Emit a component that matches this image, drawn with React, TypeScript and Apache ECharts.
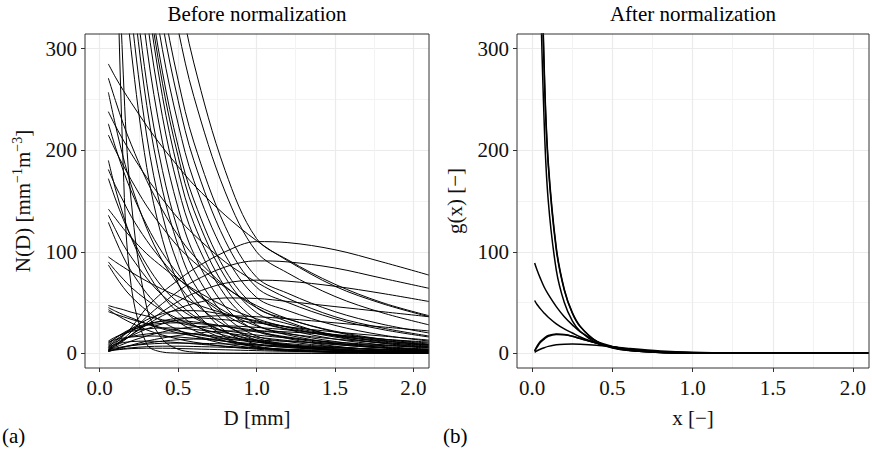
import React, { useEffect, useRef } from "react";
import * as echarts from "echarts";

const FONT = '"Liberation Serif", "Times New Roman", Times, serif';

// ---------- Panel (a): Before normalization ----------
const dGrid = [0.055, 0.1, 0.15, 0.2, 0.3, 0.4, 0.5, 0.6, 0.8, 1.0, 1.2, 1.5, 1.8, 2.1];

const steepCurves: number[][] = [
  [1224, 497, 183, 67, 9, 1.2, 0.2, 0, 0, 0, 0, 0, 0, 0],
  [860, 501, 275, 151, 45, 13.7, 4, 1.2, 0.1, 0, 0, 0, 0, 0],
  [607, 487, 382, 299, 183, 112, 69, 42, 16, 6, 3.6, 1.7, 0.9, 0.5],
  [647, 528, 422, 336, 214, 136, 87, 55, 22, 9, 5.8, 3.1, 1.7, 1],
  [681, 565, 458, 371, 244, 161, 106, 69, 30, 13, 8.5, 4.6, 2.6, 1.5],
  [697, 584, 480, 394, 266, 180, 121, 82, 37, 17, 11.5, 6.4, 3.6, 2],
  [757, 640, 531, 440, 302, 208, 143, 98, 46, 22, 15.3, 8.9, 5.1, 3],
  [786, 671, 562, 471, 331, 233, 163, 115, 57, 28, 19.7, 11.6, 6.8, 4],
  [819, 703, 593, 500, 356, 253, 180, 128, 65, 33, 23.4, 14, 8.4, 5],
  [790, 685, 585, 500, 365, 266, 194, 141, 75, 40, 29, 18, 11.2, 7],
  [786, 687, 589, 507, 374, 277, 204, 151, 82, 45, 33.6, 21.7, 14, 9],
  [792, 697, 606, 526, 397, 299, 226, 170, 97, 55, 42, 27.5, 18, 12],
  [820, 726, 635, 556, 425, 325, 249, 190, 111, 65, 50, 34, 23.5, 16],
  [836, 745, 656, 577, 447, 347, 269, 208, 125, 75, 59, 41, 28.7, 20],
  [896, 807, 719, 640, 508, 403, 319, 253, 159, 100, 79, 56, 40, 28],
  [1010, 913, 813, 724, 574, 455, 361, 286, 180, 113, 92, 68, 50, 37],
];

const decayCurves: number[][] = [
  [285, 272, 259, 247, 224, 203, 184, 166, 136, 111, 91, 66, 49, 36],
  [271, 249, 226, 206, 170, 141, 116, 96, 66, 45, 31, 17, 10, 5.5],
  [257, 225, 193, 166, 123, 91, 68, 50, 27.5, 15, 8.3, 3.4, 1.4, 0.6],
  [238, 224, 210, 197, 173, 152, 133, 117, 90, 70, 54, 36, 25, 17],
  [226, 203, 180, 160, 126, 99, 78, 61, 38, 23, 14.5, 7, 3.4, 1.7],
  [215, 200, 185, 171, 145, 124, 105, 90, 65, 47, 34, 21, 13, 8],
  [190, 162, 136, 114, 81, 57, 40, 28, 14, 7, 3.5, 1.2, 0.4, 0.15],
  [181, 165, 150, 135, 111, 91, 74, 61, 41, 27, 18, 10, 5.6, 3],
  [172, 152, 132, 115, 87, 65, 50, 37, 21, 12, 7, 3, 1.3, 0.6],
  [142, 133, 123, 114, 98, 85, 73, 63, 46, 34, 25.5, 16, 10, 6.6],
  [136, 122, 107, 95, 74, 57, 45, 35, 21, 13, 7.8, 3.7, 1.7, 0.8],
  [129, 112, 95, 81, 59, 43, 31, 22.6, 12, 6.2, 3.3, 1.3, 0.5, 0.2],
  [95, 90, 85, 80, 71, 63, 56, 49, 39, 31, 24, 17, 12, 8.2],
  [90, 81.5, 73, 65, 52.5, 42, 34, 27, 17.5, 11, 7.2, 3.7, 1.9, 1],
  [87, 76, 65, 56, 42, 31, 23, 17, 9.3, 5.1, 2.8, 1.1, 0.5, 0.2],
  [47, 45, 43, 40.5, 36.7, 33, 30, 27, 22.3, 18, 15, 11, 8.3, 6.1],
  [45, 41.5, 38, 35, 29, 24, 20, 17, 11.7, 8.2, 5.7, 3.3, 1.9, 1.1],
  [43, 38.5, 34, 30, 23, 18, 14, 11, 6.7, 4, 2.4, 1.1, 0.5, 0.25],
  [41, 38.5, 36, 33.5, 29, 25, 22, 19, 14.3, 11, 8.3, 5.5, 3.6, 2.4],
];

const humpCurves: number[][] = [
  [4, 10, 17, 25, 45, 60, 72, 83, 100, 110, 109, 102, 90, 77],
  [3, 8, 14, 21, 36, 49, 61, 71, 85, 91, 90, 84, 74, 64],
  [3, 7, 12, 18, 30, 41, 51, 59, 69, 72, 71, 66, 59, 51],
  [4, 8, 13, 18, 28, 37, 44, 49, 54.5, 54, 51, 46, 41, 36],
  [5, 9, 13, 17, 24, 29, 33, 35.5, 37, 36, 34, 30, 26, 22],
  [8, 13, 18, 22, 28, 32, 34.5, 35, 33, 30, 26, 21, 17, 13],
  [10, 15, 19.5, 23, 27.5, 29.5, 30, 29.5, 26.5, 22.5, 19, 14, 10.5, 8],
  [12, 16, 19, 21.5, 24, 25, 24.8, 23.5, 20, 16, 12.5, 8.5, 5.7, 3.8],
  [7, 11, 14, 16.5, 19, 20, 19.8, 19, 16, 12.5, 9.5, 6, 3.7, 2.2],
  [11, 13.5, 15, 16, 17, 16.8, 16, 14.8, 12, 9, 6.5, 4, 2.3, 1.3],
  [2, 4, 6, 7.5, 10, 12, 13.3, 14, 14, 13, 11.7, 9.6, 7.6, 6],
  [3, 5, 6.5, 7.5, 9, 9.8, 10, 9.9, 9.2, 8.2, 7, 5.4, 4, 3],
  [2, 3.5, 4.6, 5.4, 6.5, 7, 7, 6.7, 5.9, 5, 4, 2.8, 1.9, 1.3],
  [2, 3.2, 4, 4.6, 5, 5, 4.7, 4.3, 3.4, 2.6, 1.9, 1.2, 0.7, 0.4],
  [2, 4, 6, 8, 12, 15, 17.5, 19.5, 22, 22, 21, 18, 14, 11],
  [3, 6, 9, 12, 17, 21, 24, 26, 27, 25.5, 23, 18.5, 14, 10],
  [6, 12, 18, 24, 33, 39, 42, 42, 38, 32, 26, 18, 12.5, 8.5],
  [9, 15, 20, 24, 29, 31.5, 32, 31, 26.5, 21, 16, 10, 6, 3.5],
  [6, 9, 10.5, 11.5, 12, 11.5, 10.5, 9.3, 7, 5, 3.4, 1.8, 0.9, 0.4],
];

// ---------- Panel (b): After normalization ----------
const xGrid = [0.015, 0.03, 0.05, 0.075, 0.1, 0.15, 0.2, 0.25, 0.3, 0.4, 0.5, 0.6, 0.8, 1.0, 1.3, 1.6, 2.1];

const normCurves: number[][] = [
  [1800, 900, 380, 225, 150, 82, 50, 32, 21.5, 10.2, 5.2, 2.7, 0.8, 0.3, 0.1, 0.05, 0],
  [2200, 1100, 470, 280, 188, 104, 63, 40, 26.5, 12, 5.8, 2.9, 0.8, 0.3, 0.1, 0.05, 0],
  [2150, 1080, 460, 275, 185, 102, 62, 39.5, 26, 11.8, 5.7, 2.9, 0.8, 0.3, 0.1, 0.05, 0],
  [89, 82, 74, 65, 58, 46, 36, 28, 21, 12, 6.8, 3.5, 1, 0.35, 0.1, 0.03, 0],
  [52, 48, 44, 39.5, 35.5, 29, 24, 20, 16, 10, 6, 3.5, 1.2, 0.4, 0.1, 0.03, 0],
  [2.5, 7, 11.5, 15, 17.5, 19, 18.5, 16.8, 14.5, 10, 6.5, 4, 1.5, 0.5, 0.1, 0.03, 0],
  [2, 6, 10.5, 14, 16.8, 18.6, 18.3, 16.8, 14.5, 10, 6.5, 4, 1.5, 0.5, 0.1, 0.03, 0],
  [1, 2.5, 4, 5.5, 6.8, 8.3, 9, 9.2, 9, 8, 6.5, 4.8, 2.3, 1, 0.3, 0.1, 0],
];

// ---------- Axes ----------
const xTicks = [0, 0.5, 1, 1.5, 2];
const yTicks = [0, 100, 200, 300];
const titles = ["Before normalization", "After normalization"];
const xNames = ["D [mm]", "x [\u2212]"];
const yNames = ["{n|N(D) [mm}{s|\u22121}{n|m}{s|\u22123}{n|]}", "{n|g(x) [\u2212]}"];
const panelTags = ["(a)", "(b)"];

const grids = [
  { left: 85, top: 34, width: 344, height: 334 },
  { left: 517, top: 34, width: 352, height: 334 },
];

const FS = 21;
const textBase = { fontFamily: FONT, fontSize: FS, color: "#111" };

function makeX(i: number) {
  return {
    type: "value",
    gridIndex: i,
    min: i === 0 ? -0.094 : -0.095,
    max: 2.1,
    splitNumber: 4,
    name: xNames[i],
    nameLocation: "middle",
    nameGap: 39,
    nameTextStyle: { ...textBase },
    axisLine: { show: false, onZero: false },
    axisTick: { show: true, length: 4, lineStyle: { color: "#333", width: 1 }, customValues: xTicks },
    axisLabel: {
      customValues: xTicks,
      formatter: (v: number) => v.toFixed(1),
      margin: 9,
      ...textBase,
    },
    splitLine: { show: true, lineStyle: { color: "#EBEBEB", width: 1.2 } },
    minorTick: { show: false, splitNumber: 2 },
    minorSplitLine: { show: true, lineStyle: { color: "#F3F3F3", width: 1 } },
  };
}

function makeY(i: number) {
  return {
    type: "value",
    gridIndex: i,
    min: -14.5,
    max: 314.5,
    splitNumber: 3,
    name: yNames[i],
    nameLocation: "middle",
    nameGap: 50,
    nameTextStyle: {
      ...textBase,
      rich: {
        n: { fontFamily: FONT, fontSize: FS, color: "#111", lineHeight: 25 },
        s: { fontFamily: FONT, fontSize: 14, color: "#111", lineHeight: 14, verticalAlign: "top" },
      },
    },
    axisLine: { show: false, onZero: false },
    axisTick: { show: true, length: 4, lineStyle: { color: "#333", width: 1 }, customValues: yTicks },
    axisLabel: {
      customValues: yTicks,
      formatter: (v: number) => String(v),
      margin: 8,
      ...textBase,
    },
    splitLine: { show: true, lineStyle: { color: "#EBEBEB", width: 1.2 } },
    minorTick: { show: false, splitNumber: 2 },
    minorSplitLine: { show: true, lineStyle: { color: "#F3F3F3", width: 1 } },
  };
}

function lineSeries(xs: number[], vals: number[], idx: number, width: number) {
  return {
    type: "line",
    xAxisIndex: idx,
    yAxisIndex: idx,
    data: xs.map((x, k) => [x, vals[k]]),
    smooth: 0.35,
    showSymbol: false,
    symbol: "none",
    silent: true,
    clip: true,
    lineStyle: { color: "#000", width },
    z: 2,
  };
}

export default function App() {
  const ref = useRef<HTMLDivElement>(null);
  useEffect(() => {
    document.body.style.margin = "0";
    const chart = echarts.init(ref.current!, null, { renderer: "svg" });
    const series: any[] = [];
    [...steepCurves, ...decayCurves, ...humpCurves].forEach((c) => series.push(lineSeries(dGrid, c, 0, 1)));
    normCurves.forEach((c) => series.push(lineSeries(xGrid, c, 1, 1.5)));

    const graphic: any[] = [];
    grids.forEach((g, i) => {
      graphic.push({
        type: "text",
        x: g.left + g.width / 2,
        y: 3,
        silent: true,
        style: { text: titles[i], fontFamily: FONT, fontSize: FS, fill: "#000", align: "center", verticalAlign: "top" },
      });
    });
    graphic.push({
      type: "text", x: 2, y: 425, silent: true,
      style: { text: panelTags[0], fontFamily: FONT, fontSize: FS, fill: "#000", align: "left", verticalAlign: "top" },
    });
    graphic.push({
      type: "text", x: 443, y: 425, silent: true,
      style: { text: panelTags[1], fontFamily: FONT, fontSize: FS, fill: "#000", align: "left", verticalAlign: "top" },
    });

    chart.setOption({
      animation: false,
      backgroundColor: "#fff",
      grid: grids.map((g) => ({
        ...g,
        show: true,
        backgroundColor: "transparent",
        borderColor: "#333",
        borderWidth: 1,
        z: 10,
      })),
      xAxis: [makeX(0), makeX(1)],
      yAxis: [makeY(0), makeY(1)],
      series,
      graphic,
    });
    return () => chart.dispose();
  }, []);
  return <div ref={ref} style={{ width: 872, height: 449 }} />;
}
